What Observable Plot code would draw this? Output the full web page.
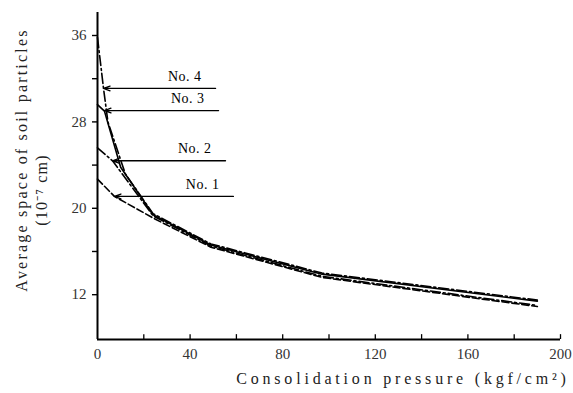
<!DOCTYPE html>
<html>
<head>
<meta charset="utf-8">
<script src="https://cdn.jsdelivr.net/npm/d3@7"></script>
<script src="https://cdn.jsdelivr.net/npm/@observablehq/plot@0.6"></script>
<style>
  html, body { margin: 0; padding: 0; background: #fff; }
  #chart { width: 573px; height: 393px; }
  svg { font-family: "Liberation Serif", serif; }
</style>
</head>
<body>
<div id="chart"></div>
<script>
// Series: consolidation pressure (kgf/cm²) vs average space of soil particles (10^-7 cm)
const seriesNames = ["No. 1", "No. 2", "No. 3", "No. 4"];
const pressure1 = [0, 7.3, 24, 49, 97, 190];
const space1    = [22.7, 21.1, 19.1, 16.4, 13.6, 10.9];
const pressure2 = [0, 6.5, 24, 49, 97, 190];
const space2    = [25.6, 24.4, 19.3, 16.5, 13.7, 11.0];
const pressure3 = [0, 3.0, 10, 24, 49, 97, 190];
const space3    = [29.6, 29.0, 23.8, 19.4, 16.6, 13.9, 11.4];
const pressure4 = [0, 2.6, 4.5, 12, 24, 49, 97, 190];
const space4    = [35.8, 31.1, 28.0, 23.2, 19.5, 16.7, 14.0, 11.5];
const dashes = ["7,3", "10,3,2,3", "none", "10,3,2,3"];

// Pointer annotations (arrow from right end to the curve)
const arrowRight = [58.7, 55.3, 52.3, 51];
const arrowTip   = [7.3, 6.5, 3.0, 2.6];
const arrowY     = [21.1, 24.4, 29.05, 31.1];

// Axis ticks and titles
const yLabelTicks = [12, 20, 28, 36];
const yAllTicks = [12, 16, 20, 24, 28, 32, 36];
const xLabelTicks = [0, 40, 80, 120, 160, 200];
const xMinorTicks = [20, 40, 60, 80, 100, 120, 140, 160, 180, 200];
const yDomain = [7.85, 38.13];
const xDomain = [0, 200];
const yTitle1 = "Average space of soil particles";
const yTitle2 = "(10⁻⁷ cm)";
const xTitle = "Consolidation pressure (kgf/cm²)";

const xs = [pressure1, pressure2, pressure3, pressure4];
const ys = [space1, space2, space3, space4];
const lines = seriesNames.flatMap((name, i) => xs[i].map((p, j) => ({name, p, v: ys[i][j]})));
const arrows = seriesNames.map((name, i) => ({name, x1: arrowRight[i], x2: arrowTip[i], y: arrowY[i]}));

const lineMarks = seriesNames.map((name, i) =>
  Plot.line(lines.filter(d => d.name === name), {
    x: "p", y: "v", stroke: "black", strokeWidth: 1.6,
    strokeDasharray: dashes[i], curve: "linear"
  })
);

const plot = Plot.plot({
  width: 573,
  height: 393,
  marginLeft: 97,
  marginRight: 13,
  marginTop: 12,
  marginBottom: 54,
  style: { fontFamily: "Liberation Serif, serif", background: "white", overflow: "visible" },
  x: { domain: xDomain },
  y: { domain: yDomain },
  marks: [
    Plot.axisY({ticks: yAllTicks, tickSize: 5, tickPadding: 6, fontSize: 15, fill: "#333",
      tickFormat: d => yLabelTicks.includes(d) ? String(d) : "", label: null, strokeWidth: 1.4}),
    Plot.axisX({ticks: xLabelTicks, tickSize: 0, tickPadding: 9, fontSize: 15, fill: "#333", label: null}),
    Plot.ruleX(xMinorTicks, {y1: yDomain[0], y2: yDomain[0] + 0.45, stroke: "black", strokeWidth: 1.3}),
    Plot.ruleX([xDomain[0]], {y1: yDomain[0], y2: yDomain[1], stroke: "black", strokeWidth: 2}),
    Plot.ruleY([yDomain[0]], {x1: xDomain[0], x2: xDomain[1], stroke: "black", strokeWidth: 2}),
    ...lineMarks,
    Plot.arrow(arrows, {x1: "x1", x2: "x2", y1: "y", y2: "y", stroke: "black", strokeWidth: 1.3,
      headLength: 8, headAngle: 40}),
    Plot.text(arrows, {x: "x1", y: "y", text: "name", textAnchor: "end", dx: -14, dy: -12,
      fontSize: 14, fill: "black"}),
    Plot.text([yTitle1], {frameAnchor: "left", rotate: -90, textAnchor: "middle",
      dx: -76, dy: -16, fontSize: 16, fill: "#222"}),
    Plot.text([yTitle2], {frameAnchor: "left", rotate: -90, textAnchor: "middle",
      dx: -56, dy: 14, fontSize: 16, fill: "#222"}),
    Plot.text([xTitle], {frameAnchor: "bottom", textAnchor: "middle",
      dx: 74, dy: 44, fontSize: 16, fill: "#222"})
  ]
});
const spacing = {[yTitle1]: "2.2px", [yTitle2]: "1.2px", [xTitle]: "3.8px"};
d3.select(plot).selectAll("text").each(function() {
  const s = spacing[this.textContent];
  if (s) this.style.letterSpacing = s;
});
d3.select(plot).selectAll("text").filter(function() { return seriesNames.includes(this.textContent); })
  .style("letter-spacing", "0.5px");
document.getElementById("chart").appendChild(plot);
</script>
</body>
</html>
